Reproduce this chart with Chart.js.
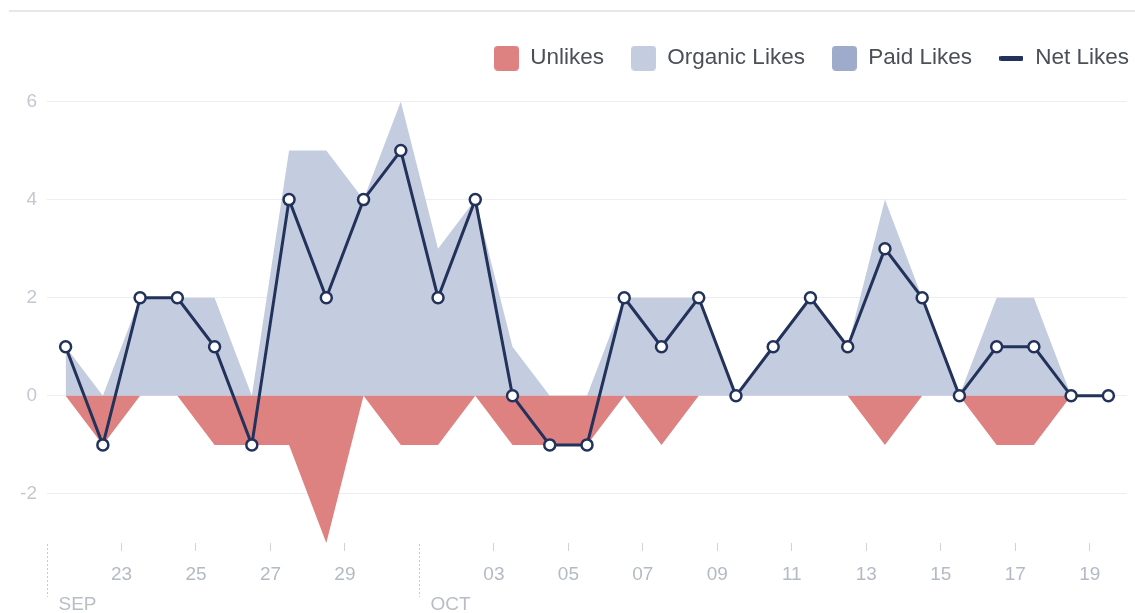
<!DOCTYPE html>
<html>
<head>
<meta charset="utf-8">
<script src="https://cdn.jsdelivr.net/npm/chart.js@4.4.0/dist/chart.umd.min.js"></script>
<style>
html,body{margin:0;padding:0;background:#fff;}
#wrap{position:relative;width:1135px;height:613px;overflow:hidden;}
#topline{position:absolute;left:9px;top:10px;right:0;height:0;border-top:2px solid #e6e7e9;}
#c{position:absolute;left:0;top:0;}
</style>
</head>
<body>
<div id="wrap"><div id="topline"></div><canvas id="c" width="1135" height="613"></canvas></div>
<script>
// ---- data ----
const dayOfMonth = [21,22,23,24,25,26,27,28,29,30,1,2,3,4,5,6,7,8,9,10,11,12,13,14,15,16,17,18,19];
const monthOfDay = ['SEP','SEP','SEP','SEP','SEP','SEP','SEP','SEP','SEP','SEP','OCT','OCT','OCT','OCT','OCT','OCT','OCT','OCT','OCT','OCT','OCT','OCT','OCT','OCT','OCT','OCT','OCT','OCT','OCT'];
const unlikes      = [0,-1,0,0,-1,-1,-1,-3,0,-1,-1,0,-1,-1,-1,0,-1,0,0,0,0,0,-1,0,0,-1,-1,0,0];
const organicLikes = [1,0,2,2,2,0,5,5,4,6,3,4,1,0,0,2,2,2,0,1,2,1,4,2,0,2,2,0,0];
const paidLikes    = [0,0,0,0,0,0,0,0,0,0,0,0,0,0,0,0,0,0,0,0,0,0,0,0,0,0,0,0,0];
const netLikes     = [1,-1,2,2,1,-1,4,2,4,5,2,4,0,-1,-1,2,1,2,0,1,2,1,3,2,0,1,1,0,0];
const yTickValues  = [-2,0,2,4,6];
const seriesNames  = ['Unlikes','Organic Likes','Paid Likes','Net Likes'];

// ---- derived tick info (day boundaries) ----
const xTicks = [], xTickLabels = {}, monthMarks = [];
dayOfMonth.forEach((d, i) => {
  const boundary = i - 0.5;
  if (i === 0 || d === 1) { monthMarks.push({v: boundary, label: monthOfDay[i]}); return; }
  if (d % 2 === 1) { xTicks.push(boundary); xTickLabels[boundary] = String(d).padStart(2, '0'); }
});

const pts = arr => arr.map((v, i) => ({x: i, y: v}));

const COLORS = {unlikes:'#de8181', organic:'#c4cce0', paid:'#9eabca', net:'#22325a'};

function swatch(color){
  const c = document.createElement('canvas'); c.width = 25; c.height = 25;
  const g = c.getContext('2d'); g.fillStyle = color; const r = 4, w = 25, h = 25;
  g.beginPath(); g.moveTo(r,0); g.lineTo(w-r,0); g.quadraticCurveTo(w,0,w,r); g.lineTo(w,h-r);
  g.quadraticCurveTo(w,h,w-r,h); g.lineTo(r,h); g.quadraticCurveTo(0,h,0,h-r); g.lineTo(0,r);
  g.quadraticCurveTo(0,0,r,0); g.closePath(); g.fill();
  return c;
}
function lineSwatch(color){
  const c = document.createElement('canvas'); c.width = 24; c.height = 5;
  const g = c.getContext('2d'); g.fillStyle = color;
  g.beginPath(); g.moveTo(2,0); g.lineTo(22,0); g.arc(22,2.5,2.5,-Math.PI/2,Math.PI/2); g.lineTo(2,5); g.arc(2,2.5,2.5,Math.PI/2,Math.PI*1.5); g.closePath(); g.fill();
  return c;
}

Chart.defaults.font.family = "'Liberation Sans', Arial, Helvetica, sans-serif";

const monthPlugin = {
  id: 'monthMarks',
  afterDraw(chart){
    const xs = chart.scales.x, ctx = chart.ctx, area = chart.chartArea;
    ctx.save();
    monthMarks.forEach(m => {
      const px = Math.round(xs.getPixelForValue(m.v)) + 0.5;
      ctx.strokeStyle = '#c6cad0'; ctx.lineWidth = 1; ctx.setLineDash([2,2]);
      ctx.beginPath(); ctx.moveTo(px, area.bottom + 1); ctx.lineTo(px, 597); ctx.stroke();
      ctx.setLineDash([]);
      ctx.fillStyle = '#b9bec6'; ctx.font = "19px 'Liberation Sans', Arial, sans-serif";
      ctx.textBaseline = 'middle'; ctx.textAlign = 'left';
      ctx.fillText(m.label, px + 11, 605);
    });
    ctx.restore();
  }
};

const legendSpace = {
  id: 'legendSpace',
  afterInit(chart){
    const lg = chart.legend; const fit = lg.fit; const draw = lg.draw;
    lg.fit = function(){ fit.call(this); this.height += 22; };
    lg.draw = function(a){ const ctx = this.ctx; ctx.save(); ctx.translate(27, 0); draw.call(this, a); ctx.restore(); };
  }
};

new Chart(document.getElementById('c'), {
  type: 'line',
  data: {
    datasets: [
      {label: seriesNames[0], data: pts(unlikes), backgroundColor: COLORS.unlikes, borderColor: COLORS.unlikes, borderWidth: 0, fill: 'origin', pointRadius: 0, tension: 0, order: 2},
      {label: seriesNames[1], data: pts(organicLikes), backgroundColor: COLORS.organic, borderColor: COLORS.organic, borderWidth: 0, fill: 'origin', pointRadius: 0, tension: 0, order: 3},
      {label: seriesNames[2], data: pts(paidLikes), backgroundColor: COLORS.paid, borderColor: COLORS.paid, borderWidth: 0, fill: 'origin', pointRadius: 0, tension: 0, order: 1},
      {label: seriesNames[3], data: pts(netLikes), borderColor: COLORS.net, borderWidth: 3, fill: false, tension: 0,
       pointRadius: 5.5, pointBackgroundColor: '#ffffff', pointBorderColor: COLORS.net, pointBorderWidth: 2.5, order: 0}
    ]
  },
  options: {
    responsive: false,
    animation: false,
    layout: {padding: {top: 20, right: 6, left: 0, bottom: 0}},
    plugins: {
      tooltip: {enabled: false},
      legend: {
        position: 'top',
        align: 'end',
        labels: {
          usePointStyle: true,
          pointStyleWidth: 25,
          padding: 27,
          color: '#4b4f56',
          font: {size: 22.5},
          generateLabels(chart){
            const sw = [swatch(COLORS.unlikes), swatch(COLORS.organic), swatch(COLORS.paid), lineSwatch(COLORS.net)];
            return chart.data.datasets.map((ds, i) => ({
              text: ds.label, pointStyle: sw[i], fillStyle: 'transparent', strokeStyle: 'transparent',
              lineWidth: 0, hidden: false, datasetIndex: i, fontColor: '#4b4f56'
            }));
          }
        }
      }
    },
    scales: {
      x: {
        type: 'linear',
        min: -0.5,
        max: 28.5,
        afterBuildTicks(scale){ scale.ticks = xTicks.map(v => ({value: v})); },
        afterFit(scale){ scale.height = 70; },
        grid: {display: true, drawOnChartArea: false, drawTicks: true, tickLength: 8, color: '#cfd3d8', tickColor: '#cfd3d8'},
        border: {display: false},
        ticks: {
          autoSkip: false, maxRotation: 0, padding: 12, color: '#b4bac3', font: {size: 19},
          callback: v => xTickLabels[v] !== undefined ? xTickLabels[v] : ''
        }
      },
      y: {
        min: -3,
        max: 6,
        afterBuildTicks(scale){ scale.ticks = yTickValues.map(v => ({value: v})); },
        afterFit(scale){ scale.width = 47; },
        grid: {color: '#eceef1', lineWidth: 1, drawTicks: false},
        border: {display: false},
        ticks: {padding: 10, color: '#c4c8cf', font: {size: 19}}
      }
    }
  },
  plugins: [monthPlugin, legendSpace]
});
</script>
</body>
</html>
